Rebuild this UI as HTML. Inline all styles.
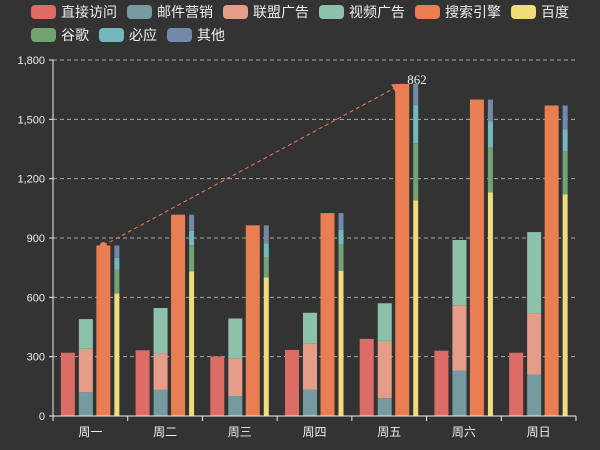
<!DOCTYPE html>
<html><head><meta charset="utf-8">
<style>
body{margin:0;background:#333;}
svg{display:block;font-family:"Liberation Sans","Noto Sans CJK SC",sans-serif;}
</style></head>
<body>
<svg id="chart" width="600" height="450">
<rect width="600" height="450" fill="#333333"/>
<g id="legend"></g>
<g id="grid"></g>
<g id="bars"></g>
<g id="axes"></g>
<g id="mark"></g>
</svg>
<script>
const categories=['周一','周二','周三','周四','周五','周六','周日'];
const seriesNames=['直接访问','邮件营销','联盟广告','视频广告','搜索引擎','百度','谷歌','必应','其他'];
const direct=[320,332,301,334,390,330,320];
const email=[120,132,101,134,90,230,210];
const union=[220,182,191,234,290,330,310];
const video=[150,232,201,154,190,330,410];
const search=[862,1018,964,1026,1679,1600,1570];
const baidu=[620,732,701,734,1090,1130,1120];
const google=[120,132,101,134,290,230,220];
const bing=[60,72,71,74,190,130,110];
const others=[62,82,91,84,109,110,120];
const yTicks=[0,300,600,900,1200,1500,1800];
const colors=['#dd6b66','#759aa0','#e69d87','#8dc1a9','#ea7e53','#eedd78','#73a373','#73b9bc','#7289ab'];
const NS='http://www.w3.org/2000/svg';
const X0=53,X1=576,Y0=416,Y1=60,YMAX=1800;
const bw=(X1-X0)/categories.length;
const y=v=>Y0-(v/YMAX)*(Y0-Y1);
const xc=i=>X0+bw*(i+0.5);
function mk(tag,attrs,parent){const e=document.createElementNS(NS,tag);for(const k in attrs)e.setAttribute(k,attrs[k]);parent.appendChild(e);return e;}
const lg=document.getElementById('legend');
const rows=[[0,1,2,3,4,5],[6,7,8]];
rows.forEach((r,ri)=>{let x=31;r.forEach(si=>{
 const g=mk('g',{},lg);
 
 
 mk('rect',{x:x,y:5+ri*23,width:25,height:14,rx:4,fill:colors[si]},g);
 const t=mk('text',{x:x+30,y:17+ri*23,fill:'#eeeeee','font-size':14},g);t.textContent=seriesNames[si];
 x+=30+seriesNames[si].length*14+10;});});
const gr=document.getElementById('grid'),ax=document.getElementById('axes');
yTicks.forEach(v=>{
 if(v>0){const l=mk('line',{x1:X0,x2:X1,y1:y(v),y2:y(v),stroke:'#aaaaaa','stroke-dasharray':'4,3','stroke-width':1},gr);
 }
 const t=mk('text',{x:45,y:y(v)+4,fill:'#eeeeee','font-size':11,'text-anchor':'end'},ax);
 
 t.textContent=v.toLocaleString('en-US');
 mk('line',{x1:X0-4,x2:X0,y1:y(v),y2:y(v),stroke:'#eeeeee'},ax);
});
mk('line',{x1:X0,x2:X0,y1:Y1,y2:Y0,stroke:'#eeeeee'},ax);
mk('line',{x1:X0,x2:X1,y1:Y0,y2:Y0,stroke:'#eeeeee'},ax);
categories.forEach((c,i)=>{
 mk('line',{x1:X0+bw*i,x2:X0+bw*i,y1:Y0,y2:Y0+5,stroke:'#eeeeee'},ax);
 const t=mk('text',{x:xc(i),y:436,fill:'#eeeeee','font-size':12,'text-anchor':'middle'},ax);
 
 t.textContent=c;
});
mk('line',{x1:X1,x2:X1,y1:Y0,y2:Y0+5,stroke:'#eeeeee'},ax);
const bg=document.getElementById('bars');
function stack(arrs,idxs,off,w){categories.forEach((c,i)=>{let base=0;arrs.forEach((a,k)=>{
 const r=mk('rect',{x:xc(i)+off,y:y(base+a[i]),width:w,height:y(base)-y(base+a[i]),fill:colors[idxs[k]]},bg);
 
 base+=a[i];});});}
stack([direct],[0],-29.5,14);
stack([email,union,video],[1,2,3],-11.5,14);
stack([search],[4],6,14);
stack([baidu,google,bing,others],[5,6,7,8],24,5);
const mg=document.getElementById('mark');
const sx=xc(0)+13,sy=y(search[0]),ex=xc(4)+13,ey=y(search[4]);
const ang=Math.atan2(ey-sy,ex-sx);
mk('line',{x1:sx,y1:sy,x2:ex-8*Math.cos(ang),y2:ey-8*Math.sin(ang),stroke:'#ea7e53','stroke-dasharray':'4,3','stroke-width':1},mg);
mk('circle',{cx:sx,cy:sy,r:3.5,fill:'#ea7e53'},mg);
const p=(d,a)=>[ex-d*Math.cos(ang+a),ey-d*Math.sin(ang+a)];
const a1=p(11,0.45),a2=p(11,-0.45);
mk('polygon',{points:`${ex},${ey} ${a1[0]},${a1[1]} ${a2[0]},${a2[1]}`,fill:'#ea7e53'},mg);
const lt=mk('text',{x:ex+5,y:ey,fill:'#eeeeee','font-size':13,'font-family':'Liberation Serif, serif'},mg);

lt.textContent=search[0];
</script>
</body></html>
